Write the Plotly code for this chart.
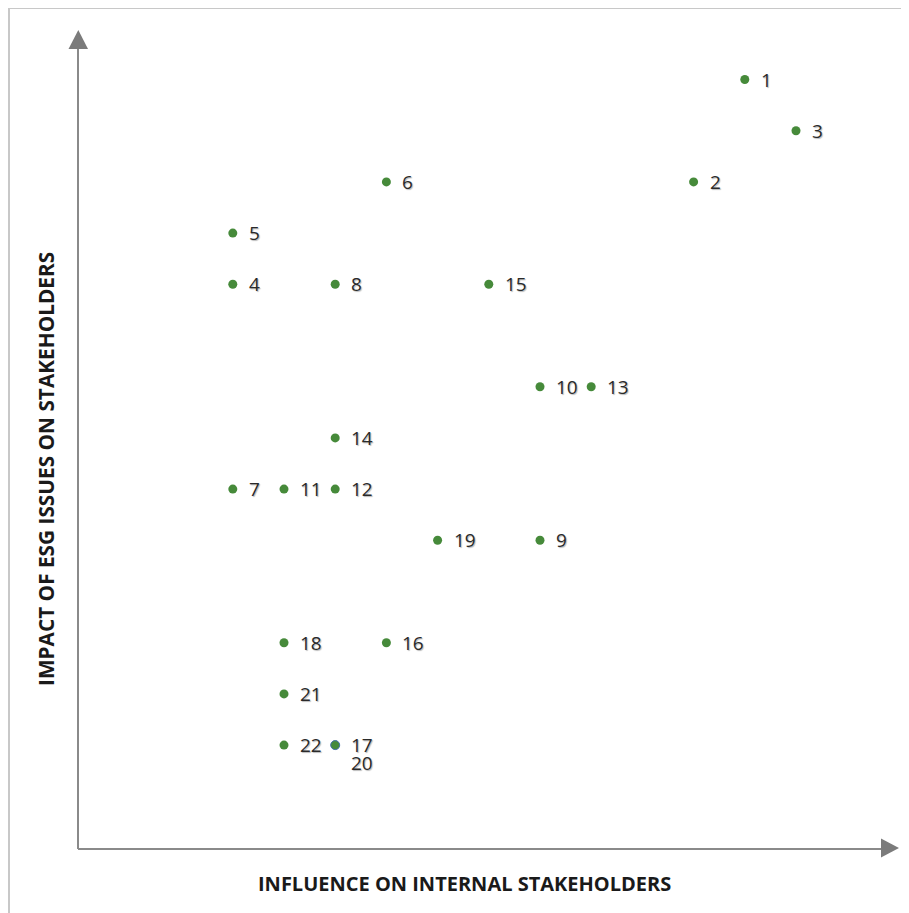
import plotly.graph_objects as go

# Materiality matrix data (grid units)
labels = ["1", "2", "3", "4", "5", "6", "7", "8", "9", "10", "11",
          "12", "13", "14", "15", "16", "17", "18", "19", "20", "21", "22"]
influence = [13, 12, 14, 3, 3, 6, 3, 5, 9, 9, 4,
             5, 10, 5, 8, 6, 5, 4, 7, 5, 4, 4]
impact = [15, 13, 14, 11, 12, 13, 7, 11, 6, 9, 7,
          7, 9, 8, 11, 4, 2, 4, 6, 2, 3, 2]
label_dy = [0] * 19 + [-18, 0, 0]   # "20" sits under "17"

x_title = "INFLUENCE ON INTERNAL STAKEHOLDERS"
y_title = "IMPACT OF ESG ISSUES ON STAKEHOLDERS"

# page has an 8px body margin; the figure is placed at (8, 8)
OFF = 8
W, H = 909 - OFF, 913 - OFF
PX = 51.2
X0, Y0 = 79.2, 847.5   # reference-pixel position of grid origin

def px_x(p):   # reference pixel -> data x
    return (p - X0) / PX

def px_y(p):   # reference pixel -> data y
    return (Y0 - p) / PX

def paper_x(p):
    return (p - OFF) / W

def paper_y(p):
    return 1 - (p - OFF) / H

GREEN = "#468a3a"
AXIS = "#8a8a8a"

fig = go.Figure()

main_idx = [i for i in range(len(labels)) if labels[i] != "20"]
over_idx = [i for i in range(len(labels)) if labels[i] == "20"]

fig.add_trace(go.Scatter(
    x=[influence[i] for i in main_idx], y=[impact[i] for i in main_idx],
    mode="markers", marker=dict(size=9, color=GREEN, line=dict(width=0)),
    hoverinfo="text", text=[labels[i] for i in main_idx], showlegend=False))
fig.add_trace(go.Scatter(
    x=[influence[i] for i in over_idx], y=[impact[i] for i in over_idx],
    mode="markers", marker=dict(size=9, color=GREEN, line=dict(width=1, color="#4a72b0")),
    hoverinfo="text", text=[labels[i] for i in over_idx], showlegend=False))

for lab, xv, yv, dy in zip(labels, influence, impact, label_dy):
    fig.add_annotation(x=xv, y=yv, text=lab, showarrow=False, xanchor="left",
                       yanchor="middle", xshift=14, yshift=dy,
                       font=dict(family="Open Sans", size=19, color="#2a2a2a",
                                 shadow="1px 1px 1px #b8b8b8"))

# axes with arrows
ax_x = px_x(78)
ax_y = px_y(849)
fig.add_shape(type="line", x0=ax_x, x1=ax_x, y0=ax_y, y1=px_y(48),
              line=dict(color=AXIS, width=2))
fig.add_shape(type="line", x0=ax_x, x1=px_x(882), y0=ax_y, y1=ax_y,
              line=dict(color=AXIS, width=2))
fig.add_shape(type="path",
              path=f"M {px_x(68.5)} {px_y(49)} L {px_x(88)} {px_y(49)} L {px_x(78.3)} {px_y(30)} Z",
              fillcolor="#7b7b7b", line=dict(width=0))
fig.add_shape(type="path",
              path=f"M {px_x(881)} {px_y(838.5)} L {px_x(881)} {px_y(857.5)} L {px_x(899)} {px_y(848)} Z",
              fillcolor="#7b7b7b", line=dict(width=0))

# frame
fig.add_shape(type="line", xref="paper", yref="paper", x0=paper_x(9), x1=1,
              y0=paper_y(8), y1=paper_y(8), line=dict(color="#c8c8c8", width=2))
fig.add_shape(type="line", xref="paper", yref="paper", x0=paper_x(9), x1=paper_x(9),
              y0=paper_y(8), y1=0, line=dict(color="#c8c8c8", width=2))

# axis titles
fig.add_annotation(xref="paper", yref="paper", x=paper_x(464.5), y=paper_y(883),
                   text=f"<b>{x_title}</b>", showarrow=False,
                   xanchor="center", yanchor="middle",
                   font=dict(family="Open Sans", size=20, color="#1a1a1a"))
fig.add_annotation(xref="paper", yref="paper", x=paper_x(46), y=paper_y(469),
                   text=f"<b>{y_title}</b>", showarrow=False,
                   xanchor="center", yanchor="middle", textangle=-90,
                   font=dict(family="Open Sans", size=20.8, color="#1a1a1a"))

fig.update_layout(
    width=W, height=H, margin=dict(l=0, r=0, t=0, b=0),
    paper_bgcolor="white", plot_bgcolor="white",
    xaxis=dict(range=[px_x(OFF), px_x(909)], visible=False, fixedrange=True),
    yaxis=dict(range=[px_y(913), px_y(OFF)], visible=False, fixedrange=True),
)

fig.write_html("out.html")
